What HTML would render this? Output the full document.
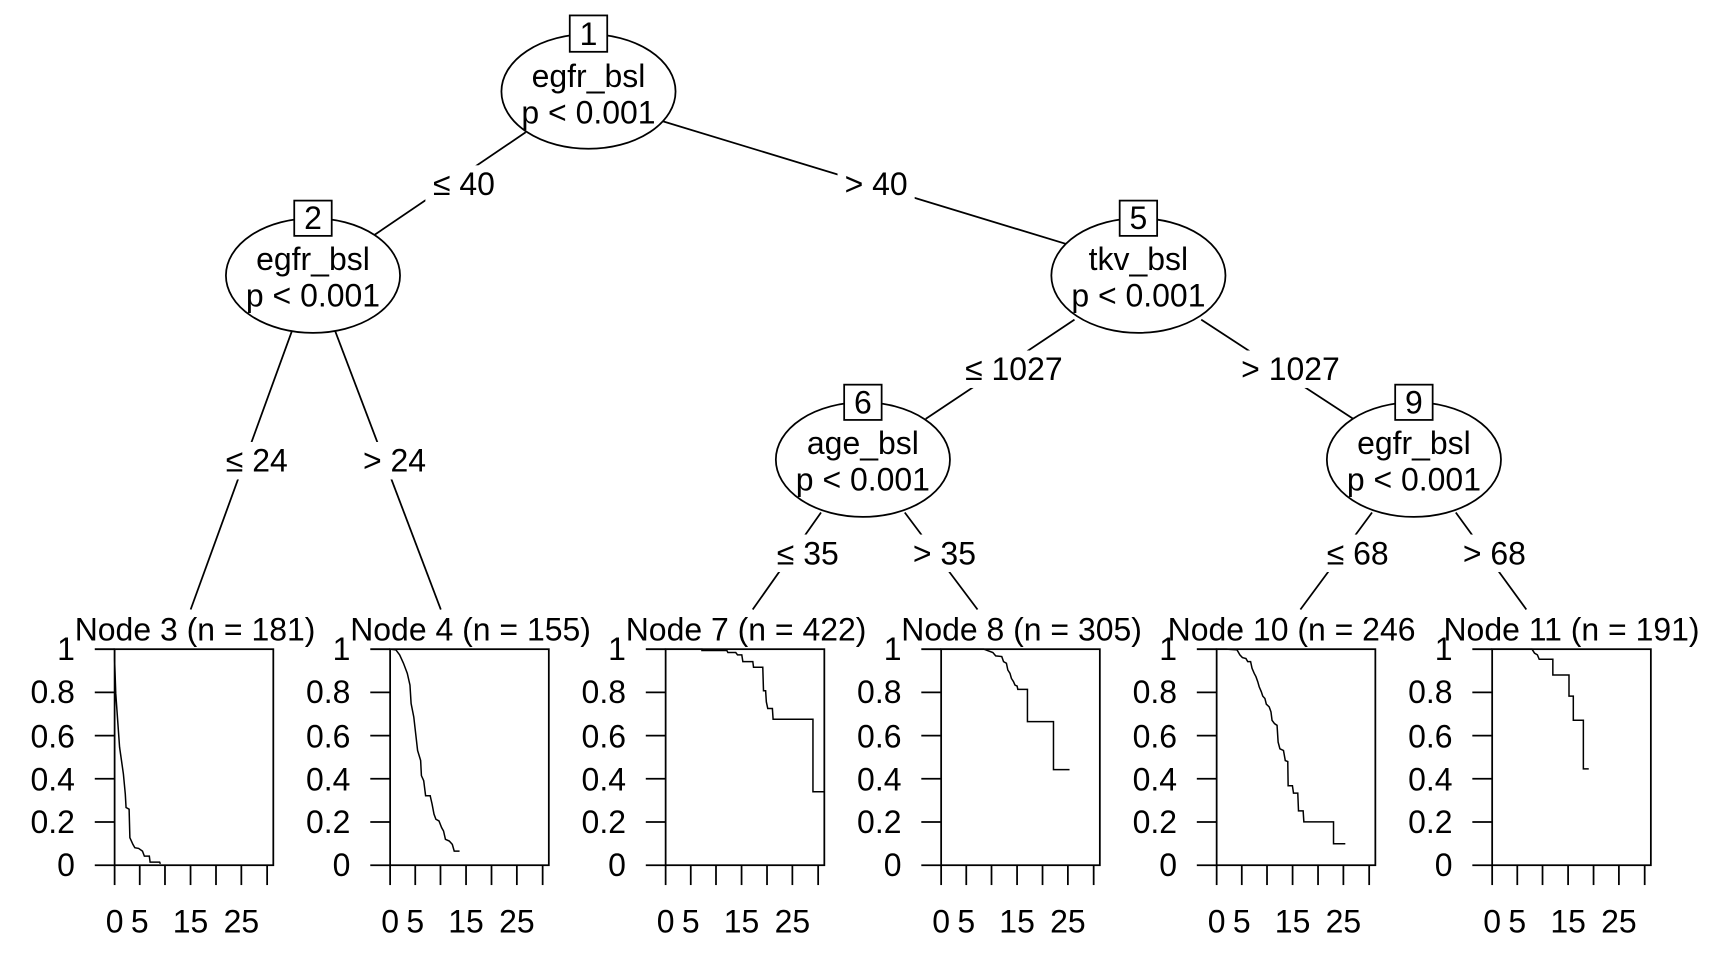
<!DOCTYPE html>
<html><head><meta charset="utf-8"><style>
html,body{margin:0;padding:0;background:#fff;}
svg{display:block;}
text{font-family:"Liberation Sans",Arial,sans-serif;font-size:29px;fill:#000;}
</style></head><body>
<svg width="1728" height="960" viewBox="0 0 1568 871" preserveAspectRatio="none" xmlns="http://www.w3.org/2000/svg">
<rect width="1568" height="871" fill="#fff"/>
<g stroke="#000" stroke-width="1.6" fill="none">
<line x1="477" y1="120" x2="340" y2="213"/>
<line x1="598" y1="109" x2="986" y2="227"/>
<line x1="265" y1="300" x2="173" y2="553"/>
<line x1="304" y1="300" x2="400" y2="553"/>
<line x1="975" y1="290" x2="840" y2="380"/>
<line x1="1090" y1="290" x2="1228" y2="380"/>
<line x1="745" y1="465" x2="683" y2="553"/>
<line x1="821" y1="465" x2="887" y2="553"/>
<line x1="1245" y1="465" x2="1180" y2="553"/>
<line x1="1321" y1="465" x2="1385" y2="553"/>
</g>
<g fill="#fff">
<rect x="386" y="150" width="70" height="34"/>
<rect x="760" y="150" width="70" height="34"/>
<rect x="198" y="401" width="70" height="34"/>
<rect x="323" y="401" width="70" height="34"/>
<rect x="868" y="318" width="104" height="34"/>
<rect x="1119" y="318" width="104" height="34"/>
<rect x="698" y="485" width="70" height="34"/>
<rect x="822" y="485" width="70" height="34"/>
<rect x="1197" y="485" width="70" height="34"/>
<rect x="1321" y="485" width="70" height="34"/>
</g>
<g text-anchor="middle">
<text x="421" y="177">≤ 40</text>
<text x="795" y="177">&gt; 40</text>
<text x="233" y="428">≤ 24</text>
<text x="358" y="428">&gt; 24</text>
<text x="920" y="345">≤ 1027</text>
<text x="1171" y="345">&gt; 1027</text>
<text x="733" y="512">≤ 35</text>
<text x="857" y="512">&gt; 35</text>
<text x="1232" y="512">≤ 68</text>
<text x="1356" y="512">&gt; 68</text>
</g>
<g stroke="#000" stroke-width="1.6" fill="#fff">
<ellipse cx="534" cy="83" rx="79" ry="52"/>
<ellipse cx="284" cy="250" rx="79" ry="52"/>
<ellipse cx="1033" cy="250" rx="79" ry="52"/>
<ellipse cx="783" cy="417" rx="79" ry="52"/>
<ellipse cx="1283" cy="417" rx="79" ry="52"/>
<rect x="517" y="14" width="34" height="33"/>
<rect x="267" y="182" width="34" height="32"/>
<rect x="1016" y="182" width="34" height="32"/>
<rect x="766" y="349" width="34" height="32"/>
<rect x="1266" y="349" width="34" height="32"/>
</g>
<g text-anchor="middle">
<text x="534" y="41">1</text><text x="534" y="79">egfr_bsl</text><text x="534" y="112">p &lt; 0.001</text>
<text x="284" y="208">2</text><text x="284" y="245">egfr_bsl</text><text x="284" y="278">p &lt; 0.001</text>
<text x="1033" y="208">5</text><text x="1033" y="245">tkv_bsl</text><text x="1033" y="278">p &lt; 0.001</text>
<text x="783" y="375">6</text><text x="783" y="412">age_bsl</text><text x="783" y="445">p &lt; 0.001</text>
<text x="1283" y="375">9</text><text x="1283" y="412">egfr_bsl</text><text x="1283" y="445">p &lt; 0.001</text>
</g>
<defs>
<g id="ax">
<rect x="0" y="0" width="144" height="196" fill="none" stroke="#000" stroke-width="1.6"/>
<g stroke="#000" stroke-width="1.6">
<line x1="-18" y1="0" x2="0" y2="0"/><line x1="-18" y1="39.2" x2="0" y2="39.2"/><line x1="-18" y1="78.4" x2="0" y2="78.4"/>
<line x1="-18" y1="117.6" x2="0" y2="117.6"/><line x1="-18" y1="156.8" x2="0" y2="156.8"/><line x1="-18" y1="196" x2="0" y2="196"/>
<line x1="0" y1="196" x2="0" y2="214"/><line x1="22.8" y1="196" x2="22.8" y2="214"/><line x1="45.7" y1="196" x2="45.7" y2="214"/>
<line x1="68.9" y1="196" x2="68.9" y2="214"/><line x1="92" y1="196" x2="92" y2="214"/><line x1="115" y1="196" x2="115" y2="214"/>
<line x1="138.4" y1="196" x2="138.4" y2="214"/>
</g>
<g text-anchor="end">
<text x="-36" y="10">1</text><text x="-36" y="49">0.8</text><text x="-36" y="89">0.6</text>
<text x="-36" y="128">0.4</text><text x="-36" y="167">0.2</text><text x="-36" y="206">0</text>
</g>
<g text-anchor="middle">
<text x="0" y="257">0</text><text x="22.8" y="257">5</text><text x="68.9" y="257">15</text><text x="115" y="257">25</text>
</g>
</g>
</defs>
<g transform="translate(104,589)"><use href="#ax"/></g>
<g transform="translate(354,589)"><use href="#ax"/></g>
<g transform="translate(604,589)"><use href="#ax"/></g>
<g transform="translate(854,589)"><use href="#ax"/></g>
<g transform="translate(1104,589)"><use href="#ax"/></g>
<g transform="translate(1354,589)"><use href="#ax"/></g>
<g text-anchor="middle">
<text x="177" y="581">Node 3 (n = 181)</text>
<text x="427" y="581">Node 4 (n = 155)</text>
<text x="677" y="581">Node 7 (n = 422)</text>
<text x="927" y="581">Node 8 (n = 305)</text>
<text x="1172" y="581">Node 10 (n = 246</text>
<text x="1426" y="581">Node 11 (n = 191)</text>
</g>
<g fill="none" stroke="#000" stroke-width="1.5">
<g transform="translate(104,589) scale(0.3462,0.3043) translate(-302,-268)">
<polyline vector-effect="non-scaling-stroke" points="302,268 302,300 305,400 310,480 315,560 320,600 325,640 330,700 332,740 340,745 342,830 350,850 355,860 365,862 375,870 380,885 393,885 395,903 420,903 422,908"/>
</g>
<g transform="translate(354,589) scale(0.3462,0.3043) translate(-1020,-268)">
<polyline vector-effect="non-scaling-stroke" points="1020,268 1035,270 1045,285 1055,310 1065,340 1072,375 1075,430 1082,470 1087,520 1092,570 1100,600 1102,645 1108,660 1113,705 1125,705 1130,730 1135,760 1140,775 1148,780 1155,800 1160,810 1165,835 1175,840 1183,850 1188,870 1202,870"/>
</g>
<g transform="translate(604,589) scale(0.3229,0.3043) translate(-183,-268)">
<polyline vector-effect="non-scaling-stroke" points="183,268 285,268 285,272 355,272 358,278 380,278 385,285 397,285 400,305 428,305 430,322 456,322 458,392 464,392 466,425 470,445 483,445 485,477 597,477 597,693 628,693"/>
</g>
<g transform="translate(854,589) scale(0.3236,0.3043) translate(-955,-268)">
<polyline vector-effect="non-scaling-stroke" points="955,268 1075,268 1085,272 1100,278 1108,288 1125,290 1130,305 1138,310 1142,330 1148,340 1152,355 1158,365 1162,375 1168,378 1170,388 1197,388 1197,484 1270,484 1270,627 1315,627"/>
</g>
<g transform="translate(1104,589) scale(0.3243,0.3043) translate(-153,-268)">
<polyline vector-effect="non-scaling-stroke" points="153,268 180,268 210,270 218,285 225,293 235,296 240,305 248,305 252,325 258,340 263,350 268,365 272,380 278,395 282,408 288,415 292,432 300,440 305,455 308,480 315,490 322,495 325,545 330,565 340,570 345,600 352,603 353,675 365,675 368,697 380,697 382,750 395,750 397,783 480,783 480,848 513,848"/>
</g>
<g transform="translate(1354,589) scale(0.3258,0.3043) translate(-914,-268)">
<polyline vector-effect="non-scaling-stroke" points="914,268 1025,268 1032,280 1040,285 1045,298 1083,298 1083,345 1128,345 1128,408 1140,408 1140,480 1168,480 1168,625 1183,625"/>
</g>
</g>
</svg>
</body></html>
